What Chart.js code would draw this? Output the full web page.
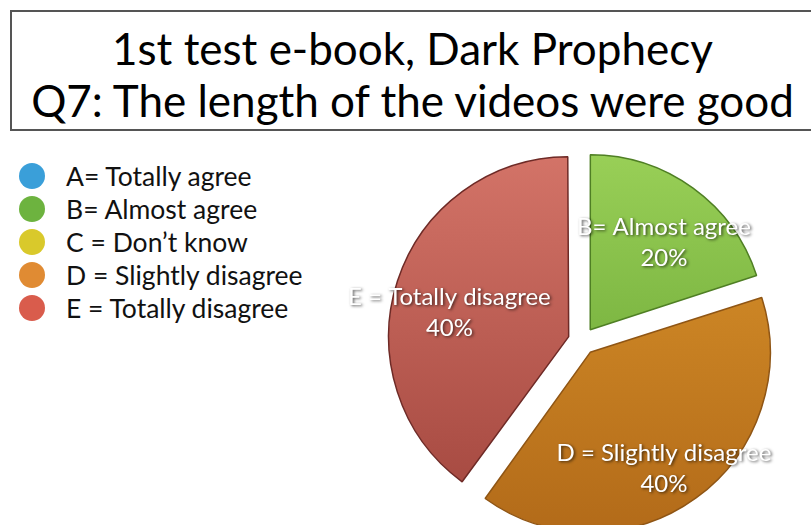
<!DOCTYPE html>
<html>
<head>
<meta charset="utf-8">
<script src="https://cdn.jsdelivr.net/npm/chart.js@4.4.0/dist/chart.umd.min.js"></script>
<style>
  body { margin: 0; width: 811px; height: 525px; overflow: hidden; background: #fff; font-family: Lato, "Open Sans", sans-serif; position: relative; }
  #titleBox { position: absolute; left: 10px; top: 10px; width: 820px; height: 121px; border: 2px solid #555; box-sizing: border-box; }
  #titleBox div { position: absolute; left: 0; width: 801px; text-align: center; font-size: 44px; color: #000; line-height: 52px; }
  #legend { position: absolute; left: 19px; top: 159px; }
  .item { height: 33.2px; display: flex; align-items: center; font-size: 26.5px; color: #111; }
  .dot { width: 26px; height: 26px; border-radius: 50%; margin-right: 21px; }
  #pie { position: absolute; left: 325px; top: 138px; }
</style>
</head>
<body>
<div id="titleBox">
  <div id="t1" style="top:10px"></div>
  <div id="t2" style="top:62px"></div>
</div>
<div id="legend"></div>
<canvas id="pie" width="486" height="406"></canvas>
<script>
// chart data
const titleLines = ["1st test e-book, Dark Prophecy", "Q7: The length of the videos were good"];
const categories = ["A= Totally agree", "B= Almost agree", "C = Don\u2019t know", "D = Slightly disagree", "E = Totally disagree"];
const sliceLabels = ["A= Totally agree", "B= Almost agree", "C = Don\u2019t know", "D = Slightly disagree", "E = Totally disagree"];
const values = [0, 20, 0, 40, 40];
const legendColors = ["#3a9fd9", "#6db33f", "#d9c92b", "#e08b33", "#d95c4c"];
const topColors = ["#5ab4e8", "#9dd35a", "#e8dc50", "#dc962c", "#d6766a"];
const bottomColors = ["#2a7fb8", "#5e9b2c", "#b8a820", "#b06818", "#a0443c"];
const edgeColors = ["#1f6a9a", "#4f7f24", "#9a8c18", "#8f5514", "#6e2a26"];

document.getElementById("t1").innerText = titleLines[0];
document.getElementById("t2").innerText = titleLines[1];

const legend = document.getElementById("legend");
categories.forEach((c, i) => {
    legend.insertAdjacentHTML("beforeend",
        `<div class="item"><span class="dot" style="background:${legendColors[i]}"></span>${c}</div>`);
});

function sliceFill(ctx) {
    const area = ctx.chart.chartArea;
    if (!area) return topColors[ctx.dataIndex];
    const g = ctx.chart.ctx.createLinearGradient(0, area.top, 0, area.bottom);
    g.addColorStop(0, topColors[ctx.dataIndex]);
    g.addColorStop(1, bottomColors[ctx.dataIndex]);
    return g;
}

// labels sit inside each slice, nudged down a bit like the original
const sliceText = {
    id: "sliceText",
    afterDatasetsDraw(chart) {
        const ctx = chart.ctx;
        const meta = chart.getDatasetMeta(0);
        meta.data.forEach((arc, i) => {
            if (!values[i]) return;
            const p = arc.getProps(["x", "y", "startAngle", "endAngle", "outerRadius"], true);
            const mid = (p.startAngle + p.endAngle) / 2;
            const r = p.outerRadius * 0.8;
            const x = p.x + Math.cos(mid) * r;
            const y = p.y + Math.sin(mid) * r + 14;
            ctx.save();
            ctx.font = "24px Lato, 'Open Sans', sans-serif";
            ctx.textAlign = "center";
            ctx.textBaseline = "middle";
            ctx.fillStyle = "#fff";
            ctx.shadowColor = "rgba(0,0,0,0.65)";
            ctx.shadowOffsetX = 1.5;
            ctx.shadowOffsetY = 1.5;
            ctx.shadowBlur = 3;
            ctx.fillText(sliceLabels[i], x, y - 15);
            ctx.fillText(values[i] + "%", x, y + 16);
            ctx.restore();
        });
    }
};

new Chart(document.getElementById("pie"), {
    type: "pie",
    data: {
        labels: categories,
        datasets: [{
            data: values,
            backgroundColor: sliceFill,
            borderColor: edgeColors,
            borderWidth: ctx => values[ctx.dataIndex] ? 1.5 : 0,
            offset: 56
        }]
    },
    options: {
        responsive: false,
        animation: false,
        layout: { padding: { left: 54, right: 26, top: 0, bottom: 0 } },
        plugins: { legend: { display: false }, tooltip: { enabled: false } }
    },
    plugins: [sliceText]
});
</script>
</body>
</html>
